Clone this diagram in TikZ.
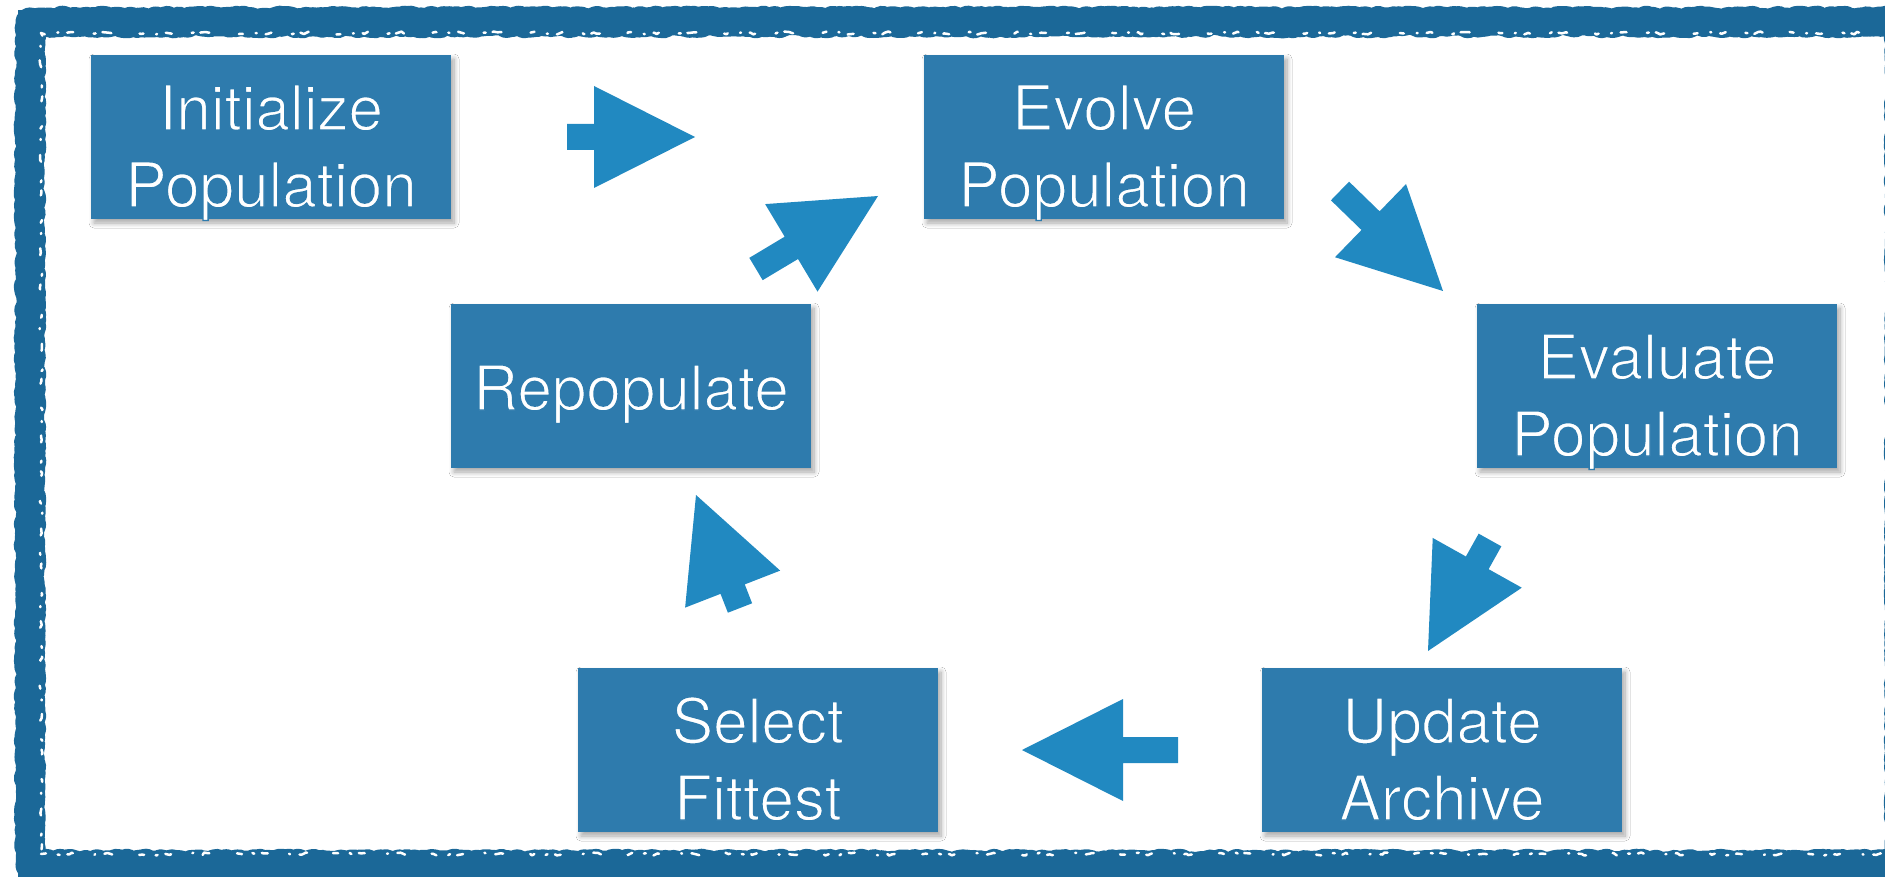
\documentclass[tikz,border=0pt]{standalone}
\usepackage{fontspec}
\setmainfont{TeX Gyre Heros}
\usetikzlibrary{calc,shadows.blur,decorations.pathmorphing}
\definecolor{boxblue}{HTML}{2E7BAD}
\definecolor{arrowblue}{HTML}{2189C1}
\definecolor{frameblue}{HTML}{1B6898}
\newcommand\blockarrow[2]{%
  \coordinate (ab) at ($(#2)!101pt!(#1)$);
  \fill[arrowblue] ($(#1)!13pt!90:(#2)$) -- ($(ab)!13pt!90:(#2)$) -- ($(ab)!51pt!90:(#2)$)
    -- (#2) -- ($(ab)!51pt!-90:(#2)$) -- ($(ab)!13pt!-90:(#2)$) -- ($(#1)!13pt!-90:(#2)$) -- cycle;
}
% light weight: stroke glyph outlines in the box colour
\newcommand\lighttext[1]{\special{pdf:literal direct 2 Tr 1.4 w 0.180 0.482 0.678 RG}#1\special{pdf:literal direct 0 Tr}}
\tikzset{
  stepbox/.style={fill=boxblue, minimum width=360pt, minimum height=164pt, inner sep=0pt,
    blur shadow={shadow xshift=3pt, shadow yshift=-4pt, shadow blur steps=8, shadow blur radius=5pt, shadow opacity=35}},
  txt/.style={text=white, font=\fontsize{62}{77}\selectfont, anchor=base, inner sep=0pt},
  speck/.style={white, line width=2.5pt, line cap=round, line join=round, decorate, decoration={random steps, segment length=4pt, amplitude=1.5pt}},
}
\begin{document}
\begin{tikzpicture}[x=1pt,y=-1pt]
\useasboundingbox (0,0) rectangle (1885,877);
\clip (0,0) rectangle (1885,877);
\fill[white] (0,0) rectangle (1885,877);
% rough frame
\pgfmathsetseed{7}
\draw[frameblue, line width=24pt] (30,22) rectangle (1900,865);
\draw[frameblue, line width=29pt, line join=round, decorate, decoration={random steps, segment length=3pt, amplitude=1.8pt}] (30,22) rectangle (1900,865);
\draw[speck, dash pattern=on 4pt off 13pt on 1pt off 9pt on 6pt off 21pt on 2pt off 7pt on 9pt off 30pt] (41,33) -- (1889,33);
\draw[speck, dash pattern=on 3pt off 11pt on 1pt off 15pt on 7pt off 19pt on 2pt off 9pt on 5pt off 26pt] (41,33) -- (41,854);
\draw[speck, dash pattern=on 5pt off 12pt on 2pt off 8pt on 6pt off 23pt on 1pt off 10pt on 8pt off 28pt] (41,854) -- (1889,854);
% boxes
\node[stepbox] (init) at (271,137) {};
\node[stepbox] (evolve) at (1104,137) {};
\node[stepbox] (evaluate) at (1657,386) {};
\node[stepbox] (repop) at (631,386) {};
\node[stepbox] (select) at (758,750) {};
\node[stepbox] (update) at (1442,750) {};
% texts
\node[txt] (init1) at ($(init.center)+(0,-7)$) {\lighttext{Initialize}};
\node[txt] (init2) at ($(init.center)+(0,70)$) {\lighttext{Population}};
\node[txt] (evolve1) at ($(evolve.center)+(0,-7)$) {\lighttext{Evolve}};
\node[txt] (evolve2) at ($(evolve.center)+(0,70)$) {\lighttext{Population}};
\node[txt] (evaluate1) at ($(evaluate.center)+(0,-7)$) {\lighttext{Evaluate}};
\node[txt] (evaluate2) at ($(evaluate.center)+(0,70)$) {\lighttext{Population}};
\node[txt] (repop1) at ($(repop.center)+(0,24)$) {\lighttext{Repopulate}};
\node[txt] (select1) at ($(select.center)+(0,-7)$) {\lighttext{Select}};
\node[txt] (select2) at ($(select.center)+(0,70)$) {\lighttext{Fittest}};
\node[txt] (update1) at ($(update.center)+(0,-7)$) {\lighttext{Update}};
\node[txt] (update2) at ($(update.center)+(0,70)$) {\lighttext{Archive}};
% arrows
\coordinate (a1t) at (567,137); \coordinate (a1h) at (695,137);
\coordinate (a2t) at (756,269); \coordinate (a2h) at (878,196);
\coordinate (a3t) at (1340,191); \coordinate (a3h) at (1443,291);
\coordinate (a4t) at (1490,540); \coordinate (a4h) at (1428,651);
\coordinate (a5t) at (1178,750); \coordinate (a5h) at (1022,750);
\coordinate (a6t) at (740,608); \coordinate (a6h) at (696,495);
\blockarrow{a1t}{a1h}
\blockarrow{a2t}{a2h}
\blockarrow{a3t}{a3h}
\blockarrow{a4t}{a4h}
\blockarrow{a5t}{a5h}
\blockarrow{a6t}{a6h}
\end{tikzpicture}
\end{document}
